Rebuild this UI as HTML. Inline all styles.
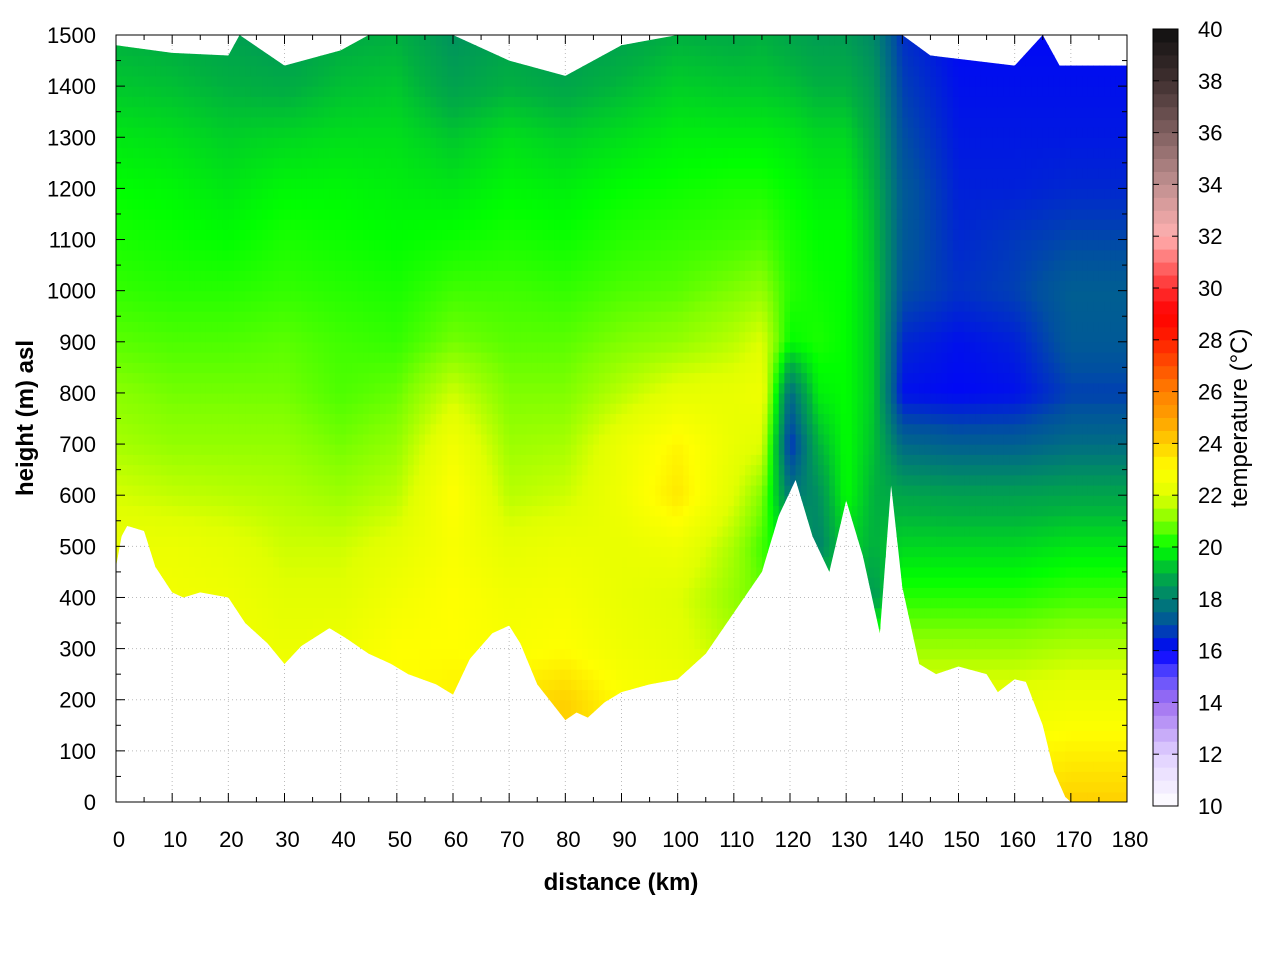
<!DOCTYPE html>
<html><head><meta charset="utf-8"><style>
body{margin:0;background:#fff}
svg text{font-family:"Liberation Sans",sans-serif;fill:#000}
</style></head><body>
<svg id="chart" width="1280" height="960" xmlns="http://www.w3.org/2000/svg">
<rect width="1280" height="960" fill="#fff"/>
<g id="grid"></g>
<defs><clipPath id="terrainClip"><polygon id="clipPoly"/></clipPath></defs>
<g id="heat" clip-path="url(#terrainClip)"></g>
<rect x="116" y="35" width="1011" height="767" fill="none" stroke="#000" stroke-width="1"/>
<g id="axes"></g>
<g id="cbar"></g>
<text x="621" y="890" font-size="24" font-weight="bold" text-anchor="middle">distance (km)</text>
<text transform="translate(33,418) rotate(-90)" font-size="24" font-weight="bold" text-anchor="middle">height (m) asl</text>
<text transform="translate(1247,418) rotate(-90)" font-size="24" text-anchor="middle">temperature (°C)</text>
</svg>
<script>
const gridX=[0,10,20,30,40,50,60,70,80,90,100,110,115,120,125,130,135,140,150,160,170,180];
const gridY=[0,100,200,300,400,500,600,700,800,900,1000,1100,1200,1300,1400,1500];
const temps=[
[23,23,23,23,23,23,23,23,24,24,24,23,23,23,23,23,23,23.5,23.5,23.5,24,24],
[23,23,23,23,23,23,23,23.5,24,23.5,23,23,23,23,23,23,23,23,23,23,23.3,23.3],
[23,23,23,23,23,23,23.3,23.5,24,23,22.8,22.5,22.3,22,22,22,22,22.3,22.3,22.3,22.5,22.5],
[22.8,22.8,22.6,22.4,22.5,23,23,22.8,23,22.5,22.2,21.5,21.2,21,21,21,21,21.3,21.3,21.3,21.5,21.5],
[22.6,22.6,22.5,22.1,22.1,22.6,23,22.6,22.7,22.3,22,21.2,20.8,20,19.5,19.5,18.5,20.3,20.3,20.3,20.5,20.5],
[22.4,22.4,22.2,21.8,21.8,22.2,22.8,22.2,22.4,22.3,22.5,21.4,20.5,19.5,18,19.5,19,19.5,19.5,19.5,19.7,19.7],
[21.9,21.7,21.6,21.5,21.3,21.6,23,21.6,21.8,22.5,23.5,22,21,17.8,18.3,20,19,18.8,18.7,18.7,18.8,18.8],
[21.4,21.2,21.2,21.2,20.9,21.2,22.6,21.3,21.4,22.4,23.2,22.3,22,16.5,19,20,19.2,17.5,17.3,17.3,17.6,17.6],
[21.1,20.9,20.9,20.9,20.6,20.8,21.8,21,21,21.6,22.2,22.3,22.5,17.5,19.8,20,19.3,16.2,16.1,16.2,16.8,16.8],
[20.7,20.6,20.6,20.7,20.5,20.4,20.9,20.7,20.7,21,21.2,21.6,22,20,20.2,20,19.3,16.5,16.2,16.4,17.2,17.2],
[20.4,20.3,20.3,20.4,20.3,20.2,20.5,20.5,20.4,20.6,20.7,21,21.2,20.3,20.1,20,19.3,17,16.6,16.8,17.3,17.3],
[20.2,20.1,20,20.2,20.1,20,20.1,20.2,20.1,20.3,20.4,20.5,20.6,20.2,20,20,19.2,17.2,16.5,16.7,16.9,16.9],
[20,19.9,19.7,19.9,19.9,19.8,19.7,19.9,19.8,20,20.1,20.2,20.2,20,19.8,19.8,19,17.2,16.4,16.4,16.5,16.5],
[19.7,19.6,19.4,19.5,19.6,19.6,19.3,19.6,19.4,19.6,19.8,19.8,19.8,19.7,19.5,19.5,18.8,17,16.3,16.3,16.3,16.3],
[19.3,19.2,19,18.9,19.2,19.3,18.7,19,18.8,19.1,19.4,19.3,19.3,19.2,19,19,18.5,16.8,16.2,16.2,16.2,16.2],
[19,18.9,18.7,18.5,18.9,19,18.4,18.7,18.5,18.7,19,18.9,19,18.8,18.6,18.6,18.2,16.6,16.1,16.1,16.1,16.1]];
const terrainX=[0,1,2,5,7,10,12,15,20,23,27,30,33,38,41,45,49,52,57,60,63,67,70,72,75,80,82,84,87,90,95,100,105,110,115,118,121,124,127,130,133,136,138,140,143,146,150,155,157,160,162,165,167,169,170,180];
const terrainH=[460,520,540,530,460,410,400,410,400,350,310,270,305,340,320,290,270,250,230,210,280,330,345,310,230,160,175,165,195,215,230,240,290,370,450,560,630,520,450,590,480,330,620,420,270,250,265,250,215,240,235,150,60,10,0,0];
const topX=[0,10,20,22,30,40,45,60,70,80,90,100,110,140,145,160,165,168,180];
const topH=[1480,1465,1460,1500,1440,1470,1500,1500,1450,1420,1480,1500,1500,1500,1460,1440,1500,1440,1440];
const xTicks=[0,10,20,30,40,50,60,70,80,90,100,110,120,130,140,150,160,170,180];
const yTicks=[0,100,200,300,400,500,600,700,800,900,1000,1100,1200,1300,1400,1500];
const cTicks=[10,12,14,16,18,20,22,24,26,28,30,32,34,36,38,40];
const cStopsT=[10,12,14,15,16,17,18,19,20,21,22,23,24,25,26,27,28,29,30,31,32,33,34,36,38,40];
const cStopsC=['#ffffff','#e0d0ff','#a070f0','#6050ff','#0000ff','#0050a0','#008070','#00b040','#00ff00','#80ff00','#e0ff00','#ffff00','#ffd000','#ffa000','#ff8000','#ff5000','#ff2000','#ff0000','#ff3030','#ff7070','#ffb0b0','#e0a0a0','#c09090','#806060','#403030','#101010'];

const NS='http://www.w3.org/2000/svg';
const X0=116,X1=1127,Y0=802,Y1=35;
const sx=d=>X0+d/180*(X1-X0);
const sy=h=>Y0-h/1500*(Y0-Y1);
function mk(tag,attrs,parent){const e=document.createElementNS(NS,tag);for(const k in attrs)e.setAttribute(k,attrs[k]);parent.appendChild(e);return e;}
function hex(c){return [parseInt(c.substr(1,2),16),parseInt(c.substr(3,2),16),parseInt(c.substr(5,2),16)];}
function cmap(t){
  if(t<=cStopsT[0])return cStopsC[0];
  for(let i=1;i<cStopsT.length;i++){if(t<=cStopsT[i]){const f=(t-cStopsT[i-1])/(cStopsT[i]-cStopsT[i-1]);const a=hex(cStopsC[i-1]),b=hex(cStopsC[i]);return 'rgb('+a.map((v,k)=>Math.round(v+(b[k]-v)*f)).join(',')+')';}}
  return cStopsC[cStopsC.length-1];
}
function idx(arr,v){for(let i=0;i<arr.length-1;i++){if(v<=arr[i+1])return i;}return arr.length-2;}
function interp(d,h){
  const i=idx(gridX,d),j=idx(gridY,h);
  const fx=(d-gridX[i])/(gridX[i+1]-gridX[i]),fy=(h-gridY[j])/(gridY[j+1]-gridY[j]);
  const a=temps[j][i],b=temps[j][i+1],c=temps[j+1][i],e=temps[j+1][i+1];
  return a*(1-fx)*(1-fy)+b*fx*(1-fy)+c*(1-fx)*fy+e*fx*fy;
}
const grid=document.getElementById('grid');
xTicks.forEach(t=>{if(t>0&&t<180){const l=mk('line',{x1:sx(t),x2:sx(t),y1:Y0,y2:Y1,stroke:'#bbb','stroke-dasharray':'1,3'},grid);}});
yTicks.forEach(t=>{if(t>0&&t<1500){const l=mk('line',{x1:X0,x2:X1,y1:sy(t),y2:sy(t),stroke:'#bbb','stroke-dasharray':'1,3'},grid);}});
let pts=[];
terrainX.forEach((d,i)=>pts.push(sx(d)+','+sy(terrainH[i])));
for(let i=topX.length-1;i>=0;i--)pts.push(sx(topX[i])+','+sy(topH[i]));
document.getElementById('clipPoly').setAttribute('points',pts.join(' '));
const heat=document.getElementById('heat');
const dStep=1,hStep=20;
for(let d=0;d<180;d+=dStep){
  for(let h=0;h<1500;h+=hStep){
    const t=interp(d+dStep/2,h+hStep/2);
    const r=mk('rect',{x:sx(d).toFixed(2),y:sy(h+hStep).toFixed(2),width:(sx(d+dStep)-sx(d)+0.6).toFixed(2),height:(sy(h)-sy(h+hStep)+0.6).toFixed(2),fill:cmap(t)},heat);
    
    
  }
}
const axes=document.getElementById('axes');
xTicks.forEach(t=>{
  const x=sx(t);
  mk('line',{x1:x,x2:x,y1:Y0,y2:Y0-9,stroke:'#000'},axes);
  mk('line',{x1:x,x2:x,y1:Y1,y2:Y1+9,stroke:'#000'},axes);
  if(t<180){const xm=sx(t+5);mk('line',{x1:xm,x2:xm,y1:Y0,y2:Y0-5,stroke:'#000'},axes);mk('line',{x1:xm,x2:xm,y1:Y1,y2:Y1+5,stroke:'#000'},axes);}
  const tx=mk('text',{x:x+3,y:847,'font-size':22,'text-anchor':'middle'},axes);tx.textContent=t;
  
});
yTicks.forEach(t=>{
  const y=sy(t);
  mk('line',{x1:X0,x2:X0+9,y1:y,y2:y,stroke:'#000'},axes);
  mk('line',{x1:X1,x2:X1-9,y1:y,y2:y,stroke:'#000'},axes);
  if(t<1500){const ym=sy(t+50);mk('line',{x1:X0,x2:X0+5,y1:ym,y2:ym,stroke:'#000'},axes);mk('line',{x1:X1,x2:X1-5,y1:ym,y2:ym,stroke:'#000'},axes);}
  const tx=mk('text',{x:96,y:y+8,'font-size':22,'text-anchor':'end'},axes);tx.textContent=t;
  
});
const cb=document.getElementById('cbar');
const CX=1153,CW=25,CT=29,CB=806;
const cy=t=>CB-(t-10)/30*(CB-CT);
for(let t=10;t<40;t+=0.5){
  const r=mk('rect',{x:CX,y:cy(t+0.5).toFixed(2),width:CW,height:(cy(t)-cy(t+0.5)+0.5).toFixed(2),fill:cmap(t+0.25)},cb);
  
}
mk('rect',{x:CX,y:CT,width:CW,height:CB-CT,fill:'none',stroke:'#000'},cb);
cTicks.forEach(t=>{
  const y=cy(t);
  mk('line',{x1:CX,x2:CX+6,y1:y,y2:y,stroke:'#000'},cb);
  mk('line',{x1:CX+CW,x2:CX+CW-6,y1:y,y2:y,stroke:'#000'},cb);
  const tx=mk('text',{x:1198,y:y+8,'font-size':22},cb);tx.textContent=t;
  
});
</script>
</body></html>
